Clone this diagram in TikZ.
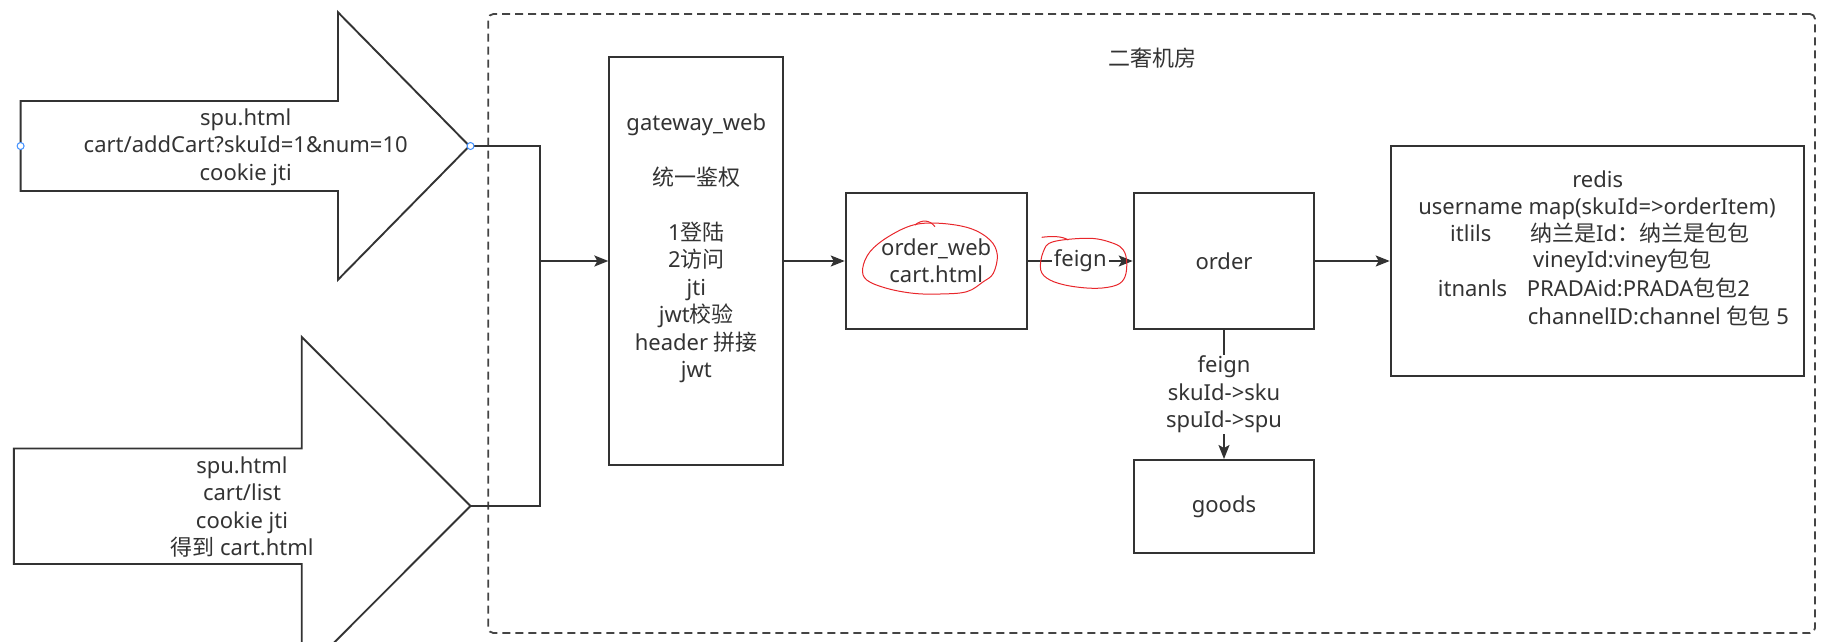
\documentclass[tikz,border=0pt]{standalone}
\usepackage{fontspec}
\setmainfont{Noto Sans}
\newfontfamily\zh{Noto Sans CJK SC}
\usetikzlibrary{arrows.meta}
\definecolor{ink}{HTML}{333333}
\definecolor{dashc}{HTML}{444444}
\definecolor{handred}{HTML}{E8262B}
\definecolor{handle}{HTML}{3D8EFF}
\newcommand\zz[1]{{\zh #1}}
\begin{document}
\begin{tikzpicture}[x=1pt,y=-1pt,
  txt/.style={text=ink, font=\fontsize{22}{27.4}\selectfont, inner sep=0pt},
  box/.style={draw=ink, line width=1.9pt, rectangle, inner sep=0pt},
  line/.style={draw=ink, line width=1.9pt},
  arr/.style={line, -{Stealth[length=14pt,width=11pt,inset=3pt]}},
  hand/.style={draw=handred, line width=1pt},
  room/.style={draw=dashc, line width=1.8pt, dash pattern=on 8pt off 5pt, rounded corners=5pt, rectangle, inner sep=0pt},
  handlec/.style={circle, draw=handle, fill=white, line width=1pt, minimum size=7pt, inner sep=0pt}]
\useasboundingbox (0,0) rectangle (1824,641);
\clip (0,0) rectangle (1824,641);

% container
\node[room, minimum width=1326.7pt, minimum height=619pt] (roombox) at (1151.65,323.5) {};
\node[txt] (title) at (1152,58) {\zz{二奢机房}};

% big arrows
\draw[line, line join=miter] (20.6,101) -- (338,101) -- (338,12.3) -- (469.4,146) -- (338,279.7) -- (338,191) -- (20.6,191) -- cycle;
\node[txt, align=center] (a1) at (245.7,147) {spu.html\\cart/addCart?skuId=1\&num=10\\cookie jti};
\draw[line, line join=miter] (13.8,448.5) -- (301.7,448.5) -- (301.7,337) -- (470.5,506) -- (301.7,675) -- (301.7,564) -- (13.8,564) -- cycle;
\node[txt, align=center] (a2) at (242,507) {spu.html\\cart/list\\cookie jti\\\zz{得到} cart.html};

\coordinate (tipA) at (469.4,146);
\coordinate (tipB) at (470.5,506);
\coordinate (J) at (539.7,261);

% boxes
\node[box, minimum width=174pt, minimum height=407.8pt] (gw) at (696.3,261) {};
\node[txt, align=center] (gwtext) at (696.3,248.4) {gateway\_web\\[27.4pt]\zz{统一鉴权}\\[27.4pt]1\zz{登陆}\\2\zz{访问}\\jti\\jwt\zz{校验}\\header \zz{拼接}\\jwt};
\node[box, txt, align=center, minimum width=181pt, minimum height=136pt] (ow) at (936.2,261) {order\_web\\cart.html};
\node[box, txt, minimum width=180.6pt, minimum height=136pt] (order) at (1224,261) {order};
\node[box, txt, minimum width=180.6pt, minimum height=92.7pt] (goods) at (1224,506.3) {goods};
\node[box, minimum width=413.3pt, minimum height=230pt] (redis) at (1597.3,261) {};

% redis text
\node[txt, anchor=base] (r1) at (1597.7,187) {redis};
\node[txt, anchor=base] (r2) at (1597,214.3) {username map(skuId=>orderItem)};
\node[txt, anchor=base west] (r3a) at (1450,241.3) {itlils};
\node[txt, anchor=base west] (r3b) at (1530,241.3) {\zz{纳兰是}Id\zz{：纳兰是包包}};
\node[txt, anchor=base west] (r4) at (1533,267.7) {vineyId:viney\zz{包包}};
\node[txt, anchor=base west] (r5a) at (1437.7,296.3) {itnanls};
\node[txt, anchor=base west] (r5b) at (1526.7,296.3) {PRADAid:PRADA\zz{包包}2};
\node[txt, anchor=base west] (r6) at (1527.7,324.3) {channelID:channel \zz{包包} 5};

% connectors
\draw[line] (tipA) -| (J);
\draw[line] (tipB) -| (J);
\draw[arr] (J) -- (gw.west);
\draw[arr] (gw) -- (ow);
\draw[arr] (ow) -- node[txt, fill=white, inner sep=2pt] (f1) {feign} (order);
\draw[arr] (order) -- (redis);
\draw[arr] (order) -- node[txt, fill=white, align=center, inner sep=1pt] (f2) {feign\\skuId->sku\\spuId->spu} (goods);

% handles
\node[handlec] (h1) at (20.6,146) {};
\node[handlec] (h2) at (470.5,146) {};

% hand drawn marks
\draw[hand] plot[smooth cycle, tension=0.6] coordinates {(888.3,236.7) (913.3,225) (940,223.3) (970,228.3) (990,240) (997.3,255) (993.3,273.3) (983.3,281.7) (966.7,291.7) (940,294) (913.3,293.3) (886.7,288.3) (866.7,280) (862.7,268.3) (870,251.7)};
\draw[hand] (915,225) .. controls (922,219) and (930,220) .. (935,226.7);
\draw[hand] plot[smooth cycle, tension=0.6] coordinates {(1040.7,270) (1043.3,251.7) (1053.3,241.7) (1090,238.3) (1113.3,243.3) (1123.3,250) (1126.7,261.7) (1125,276.7) (1116.7,285) (1096.7,288.3) (1070,286) (1050,280)};
\draw[hand] (1041.7,237.3) .. controls (1052,236) and (1062,236) .. (1068.3,240);
\end{tikzpicture}
\end{document}
